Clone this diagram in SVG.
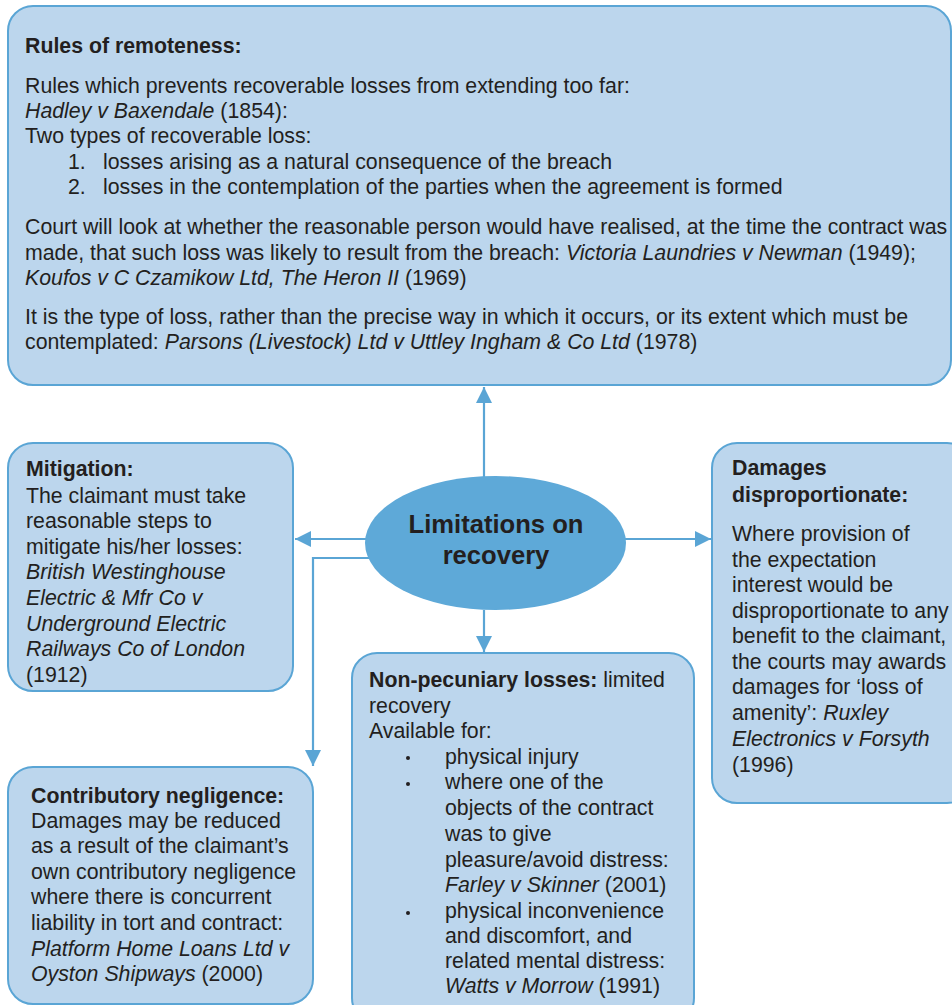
<svg xmlns="http://www.w3.org/2000/svg" width="952" height="1005" viewBox="0 0 952 1005">
  <style>
    .box { fill: #bcd6ed; stroke: #5aa5d5; stroke-width: 2; }
    .hub { fill: #5ea9d8; stroke: none; }
    .link { fill: none; stroke: #5aa5d5; stroke-width: 2.2; }
    .dot { fill: #231f20; }
    text { font-family: "Liberation Sans", Arial, sans-serif; font-size: 21.3px; fill: #231f20; }
    .b { font-weight: bold; }
    .i { font-style: italic; }
    .hubtxt { font-size: 25.6px; font-weight: bold; text-anchor: middle; }
  </style>
  <defs>
    <marker id="arrow" viewBox="0 0 16 16" refX="16" refY="8" markerWidth="16" markerHeight="16" markerUnits="userSpaceOnUse" orient="auto">
      <path d="M0,0 L16,8 L0,16 Z" fill="#5aa5d5"/>
    </marker>
  </defs>

  <!-- connectors -->
  <g id="connectors">
    <line class="link" x1="484" y1="477" x2="484" y2="387" marker-end="url(#arrow)"/>
    <line class="link" x1="366" y1="539" x2="295" y2="539" marker-end="url(#arrow)"/>
    <line class="link" x1="625" y1="539" x2="711" y2="539" marker-end="url(#arrow)"/>
    <line class="link" x1="484" y1="610" x2="484" y2="652" marker-end="url(#arrow)"/>
    <polyline class="link" points="369,558 313,558 313,766" marker-end="url(#arrow)"/>
  </g>

  <!-- rules of remoteness -->
  <g id="remoteness">
    <rect class="box" x="8" y="6" width="943" height="379" rx="25"/>
    <text x="25" y="53" class="b">Rules of remoteness:</text>
    <text x="25" y="93">Rules which prevents recoverable losses from extending too far:</text>
    <text x="25" y="118"><tspan class="i">Hadley v Baxendale</tspan> (1854):</text>
    <text x="25" y="143">Two types of recoverable loss:</text>
    <text x="68" y="169">1.</text>
    <text x="103" y="169">losses arising as a natural consequence of the breach</text>
    <text x="68" y="194">2.</text>
    <text x="103" y="194">losses in the contemplation of the parties when the agreement is formed</text>
    <text x="25" y="234">Court will look at whether the reasonable person would have realised, at the time the contract was</text>
    <text x="25" y="260">made, that such loss was likely to result from the breach: <tspan class="i">Victoria Laundries v Newman</tspan> (1949);</text>
    <text x="25" y="285"><tspan class="i">Koufos v C Czamikow Ltd, The Heron II</tspan> (1969)</text>
    <text x="25" y="324">It is the type of loss, rather than the precise way in which it occurs, or its extent which must be</text>
    <text x="25" y="349">contemplated: <tspan class="i">Parsons (Livestock) Ltd v Uttley Ingham &amp; Co Ltd</tspan> (1978)</text>
  </g>

  <!-- central hub -->
  <g id="hub">
    <ellipse class="hub" cx="495.5" cy="543" rx="130.5" ry="67"/>
    <text x="496" y="533" class="hubtxt">Limitations on</text>
    <text x="496" y="564" class="hubtxt">recovery</text>
  </g>

  <!-- mitigation -->
  <g id="mitigation">
    <rect class="box" x="8" y="443" width="285" height="248" rx="25"/>
    <text x="26" y="476" class="b">Mitigation:</text>
    <text x="26" y="503">The claimant must take</text>
    <text x="26" y="528">reasonable steps to</text>
    <text x="26" y="554">mitigate his/her losses:</text>
    <text x="26" y="579" class="i">British Westinghouse</text>
    <text x="26" y="605" class="i">Electric &amp; Mfr Co v</text>
    <text x="26" y="631" class="i">Underground Electric</text>
    <text x="26" y="656" class="i">Railways Co of London</text>
    <text x="26" y="682">(1912)</text>
  </g>

  <!-- damages disproportionate -->
  <g id="disproportionate">
    <rect class="box" x="712" y="443" width="260" height="360" rx="25"/>
    <text x="732" y="475" class="b">Damages</text>
    <text x="732" y="502" class="b">disproportionate:</text>
    <text x="732" y="541">Where provision of</text>
    <text x="732" y="567">the expectation</text>
    <text x="732" y="592">interest would be</text>
    <text x="732" y="618">disproportionate to any</text>
    <text x="732" y="643">benefit to the claimant,</text>
    <text x="732" y="669">the courts may awards</text>
    <text x="732" y="694">damages for ‘loss of</text>
    <text x="732" y="720">amenity’: <tspan class="i">Ruxley</tspan></text>
    <text x="732" y="746" class="i">Electronics v Forsyth</text>
    <text x="732" y="772">(1996)</text>
  </g>

  <!-- non-pecuniary losses -->
  <g id="nonpecuniary">
    <rect class="box" x="352" y="653" width="342" height="370" rx="25"/>
    <text x="369" y="687"><tspan class="b">Non-pecuniary losses:</tspan> limited</text>
    <text x="369" y="713">recovery</text>
    <text x="369" y="738">Available for:</text>
    <circle class="dot" cx="408" cy="758" r="2"/>
    <text x="445" y="764">physical injury</text>
    <circle class="dot" cx="408" cy="784" r="2"/>
    <text x="445" y="789">where one of the</text>
    <text x="445" y="815">objects of the contract</text>
    <text x="445" y="841">was to give</text>
    <text x="445" y="867">pleasure/avoid distress:</text>
    <text x="445" y="892"><tspan class="i">Farley v Skinner</tspan> (2001)</text>
    <circle class="dot" cx="408" cy="913" r="2"/>
    <text x="445" y="918">physical inconvenience</text>
    <text x="445" y="943">and discomfort, and</text>
    <text x="445" y="968">related mental distress:</text>
    <text x="445" y="993"><tspan class="i">Watts v Morrow</tspan> (1991)</text>
  </g>

  <!-- contributory negligence -->
  <g id="contributory">
    <rect class="box" x="8" y="767" width="305" height="237" rx="25"/>
    <text x="31" y="803" class="b">Contributory negligence:</text>
    <text x="31" y="828">Damages may be reduced</text>
    <text x="31" y="853">as a result of the claimant’s</text>
    <text x="31" y="879">own contributory negligence</text>
    <text x="31" y="904">where there is concurrent</text>
    <text x="31" y="930">liability in tort and contract:</text>
    <text x="31" y="956" class="i">Platform Home Loans Ltd v</text>
    <text x="31" y="981"><tspan class="i">Oyston Shipways</tspan> (2000)</text>
  </g>
</svg>
